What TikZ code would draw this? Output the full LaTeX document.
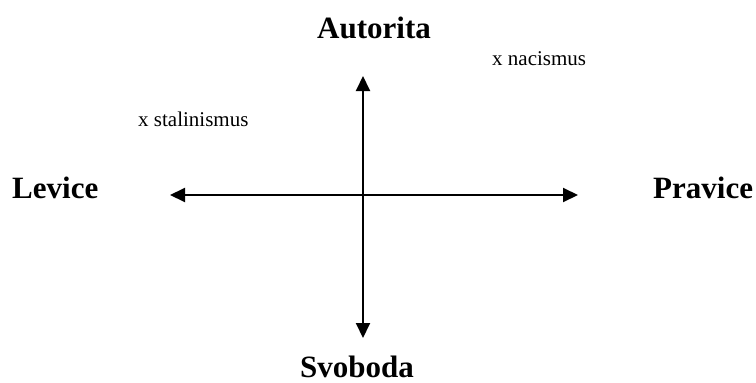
\documentclass[tikz,border=0pt]{standalone}
\usepackage{fontspec}
\setmainfont{Liberation Serif}
\usetikzlibrary{arrows.meta}
\begin{document}
\begin{tikzpicture}[x=1pt,y=-1pt,
  axis/.style={line width=2pt,-{Triangle[length=15pt,width=14pt]}},
  big/.style={inner sep=0pt,anchor=base west,font=\fontsize{31}{31}\selectfont\bfseries},
  small/.style={inner sep=0pt,anchor=base west,font=\fontsize{21}{21}\selectfont}]
\useasboundingbox (0,0) rectangle (756,383);
\coordinate (c) at (363,195);
\coordinate (l) at (170,195);
\coordinate (r) at (578,195);
\coordinate (t) at (363,76);
\coordinate (b) at (363,338);
\draw[axis] (c) -- (l);
\draw[axis] (c) -- (r);
\draw[axis] (c) -- (t);
\draw[axis] (c) -- (b);
\node[big] (aut) at (317,38) {Autorita};
\node[big] (lev) at (12,198) {Levice};
\node[big] (pra) at (653,198) {Pravice};
\node[big] (svo) at (300,377) {Svoboda};
\node[small] (naz) at (492,65) {x nacismus};
\node[small] (sta) at (138,126) {x stalinismus};
\end{tikzpicture}
\end{document}
